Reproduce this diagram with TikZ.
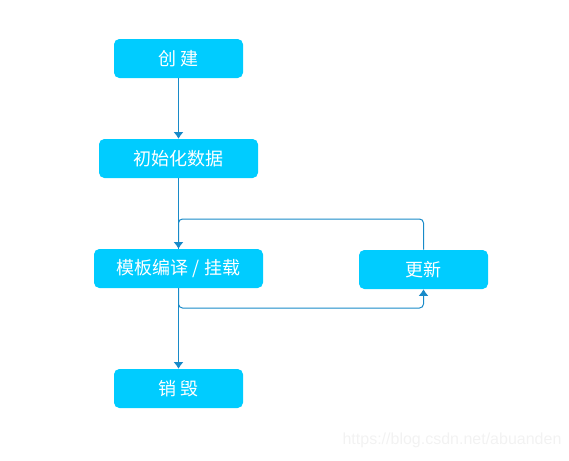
\documentclass[tikz,border=0pt]{standalone}
\usepackage{fontspec}
\newfontfamily\cjk{Noto Sans CJK SC}
\newfontfamily\wmfont{Liberation Sans}
\usetikzlibrary{arrows.meta}
\definecolor{boxcyan}{RGB}{0,204,255}
\definecolor{linkblue}{RGB}{24,138,200}
\tikzset{
  >={Latex[length=5pt,width=7.5pt]},
}
\tikzstyle{stage}=[fill=boxcyan,rounded corners=4pt,text=white,font=\cjk\fontsize{13.5}{15}\selectfont,minimum height=29.25pt,inner sep=0pt]
\tikzstyle{link}=[linkblue,line width=0.75pt,rounded corners=3pt]

\begin{document}
\begin{tikzpicture}[x=0.75pt,y=-0.75pt]
    \useasboundingbox (0,0) rectangle (569,461);
    \node[stage,minimum width=96.75pt] (create) at (178.5,58.5) {创 建};
    \node[stage,minimum width=119.25pt] (init) at (178.5,158.5) {初始化数据};
    \node[stage,minimum width=126.75pt] (mount) at (178.5,268.5) {模板编译 / 挂载};
    \node[stage,minimum width=96.75pt] (update) at (423.5,269.5) {更新};
    \node[stage,minimum width=96.75pt] (destroy) at (178.5,388.5) {销 毁};
    \draw[link,->] (create) -- (init);
    \draw[link] (init.south) -- (mount.north);
    \draw[link,->] (update.north) |- (178.5,219) -- (mount.north);
    \draw[link,->] (mount.south) |- (423.5,308) -- (update.south);
    \draw[link,->] (mount) -- (destroy);
    % watermark
    \node[text=black!5,font=\wmfont\fontsize{12}{14}\selectfont] (mark) at (452,440) {https://blog.csdn.net/abuanden};
  \end{tikzpicture}
\end{document}
